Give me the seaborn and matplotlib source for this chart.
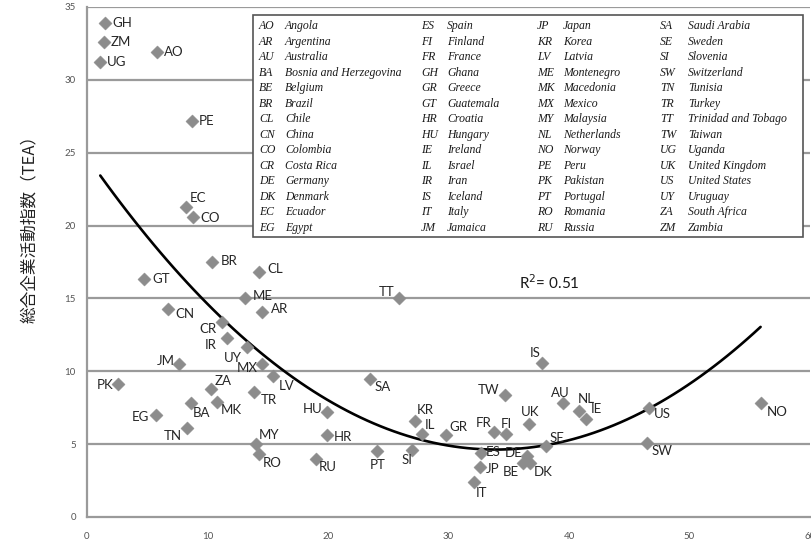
import numpy as np
import pandas as pd
import matplotlib
matplotlib.use("Agg")
import matplotlib.pyplot as plt
import seaborn as sns
from matplotlib.patches import Rectangle

# country code, x value, TEA
codes = ["GH", "ZM", "UG", "AO", "PE", "EC", "CO", "BR", "GT", "CL", "ME", "AR",
         "CN", "CR", "IR", "UY", "JM", "MX", "LV", "PK", "ZA", "TR", "BA", "MK",
         "HU", "EG", "TN", "HR", "MY", "RO", "RU", "SA", "KR", "IL", "PT", "SI",
         "GR", "FR", "FI", "ES", "DE", "JP", "BE", "DK", "IT", "TW", "IS", "UK",
         "AU", "NL", "IE", "SE", "US", "SW", "NO", "TT"]
xvals = [1.5, 1.4, 1.1, 5.8, 8.7, 8.2, 8.8, 10.4, 4.7, 14.3, 13.1, 14.5,
         6.7, 11.2, 11.6, 13.3, 7.6, 14.5, 15.4, 2.6, 10.3, 13.9, 8.6, 10.8,
         19.9, 5.7, 8.3, 19.9, 14.0, 14.3, 19.0, 23.5, 27.2, 27.8, 24.1, 27.0,
         29.8, 33.8, 34.8, 32.7, 36.5, 32.6, 36.2, 36.8, 32.1, 34.7, 37.8, 36.7,
         39.5, 40.8, 41.4, 38.1, 46.6, 46.5, 55.9, 25.9]
tea = [33.9, 32.6, 31.2, 31.9, 27.2, 21.3, 20.6, 17.5, 16.3, 16.8, 15.0, 14.1,
       14.3, 13.4, 12.3, 11.7, 10.5, 10.5, 9.7, 9.1, 8.8, 8.6, 7.8, 7.9,
       7.2, 7.0, 6.1, 5.6, 5.0, 4.3, 4.0, 9.5, 6.6, 5.7, 4.5, 4.6,
       5.6, 5.8, 5.7, 4.4, 4.2, 3.4, 3.7, 3.7, 2.4, 8.4, 10.6, 6.4,
       7.8, 7.3, 6.7, 4.9, 7.5, 5.1, 7.8, 15.0]

legend_codes = ["AO", "AR", "AU", "BA", "BE", "BR", "CL", "CN", "CO", "CR", "DE", "DK", "EC", "EG",
                "ES", "FI", "FR", "GH", "GR", "GT", "HR", "HU", "IE", "IL", "IR", "IS", "IT", "JM",
                "JP", "KR", "LV", "ME", "MK", "MX", "MY", "NL", "NO", "PE", "PK", "PT", "RO", "RU",
                "SA", "SE", "SI", "SW", "TN", "TR", "TT", "TW", "UG", "UK", "US", "UY", "ZA", "ZM"]
legend_names = ["Angola", "Argentina", "Australia", "Bosnia and Herzegovina", "Belgium", "Brazil",
                "Chile", "China", "Colombia", "Costa Rica", "Germany", "Denmark", "Ecuador", "Egypt",
                "Spain", "Finland", "France", "Ghana", "Greece", "Guatemala", "Croatia", "Hungary",
                "Ireland", "Israel", "Iran", "Iceland", "Italy", "Jamaica",
                "Japan", "Korea", "Latvia", "Montenegro", "Macedonia", "Mexico", "Malaysia",
                "Netherlands", "Norway", "Peru", "Pakistan", "Portugal", "Romania", "Russia",
                "Saudi Arabia", "Sweden", "Slovenia", "Switzerland", "Tunisia", "Turkey",
                "Trinidad and Tobago", "Taiwan", "Uganda", "United Kingdom", "United States",
                "Uruguay", "South Africa", "Zambia"]

ylabel = "総合企業活動指数（TEA）"
r2_text = "R$^2$= 0.51"

# label placement (pixels right, pixels down, alignment)
offsets = {
    "EC": (4, -9, "left"), "CO": (7, 1, "left"), "BR": (8, -1, "left"), "GT": (9, 0, "left"),
    "CL": (8, -3, "left"), "ME": (8, -2, "left"), "AR": (9, -3, "left"), "CN": (8, 5, "left"),
    "CR": (-5, 7, "right"), "IR": (-10, 7, "right"), "UY": (-5, 11, "right"),
    "JM": (-4, -3, "right"), "MX": (-4, 4, "right"), "LV": (6, 10, "left"),
    "PK": (-5, 1, "right"), "ZA": (4, -8, "left"), "TR": (6, 8, "left"), "BA": (2, 10, "left"),
    "MK": (4, 8, "left"), "HU": (-4, -3, "right"), "EG": (-7, 2, "right"),
    "TN": (-5, 8, "right"), "HR": (7, 2, "left"), "MY": (3, -9, "left"), "RO": (3, 9, "left"),
    "RU": (3, 8, "left"), "SA": (4, 8, "left"), "KR": (2, -11, "left"), "IL": (3, -9, "left"),
    "PT": (0, 14, "center"), "SI": (0, 10, "right"), "GR": (3, -8, "left"),
    "FR": (-3, -9, "right"), "FI": (0, -10, "center"), "ES": (5, -1, "left"),
    "DE": (-4, -3, "right"), "JP": (6, 2, "left"), "BE": (-4, 9, "right"), "DK": (3, 9, "left"),
    "IT": (2, 11, "left"), "TW": (-6, -5, "right"), "IS": (-2, -10, "right"),
    "UK": (1, -12, "center"), "AU": (-3, -10, "center"), "NL": (-1, -12, "left"),
    "IE": (5, -10, "left"), "SE": (3, -8, "left"), "US": (5, 6, "left"), "SW": (4, 8, "left"),
    "NO": (6, 9, "left"), "TT": (-5, -6, "right"),
}

df = pd.DataFrame({"code": codes, "x": xvals, "tea": tea})

sns.set_style("white")
plt.rcParams["font.family"] = ["Lato", "DejaVu Sans"]

fig = plt.figure(figsize=(8.11, 5.5), dpi=100)
ax = fig.add_axes([87 / 811, 1 - 517 / 550, 723 / 811, 510 / 550])

grid_col = "#9a9a9a"
for yv in range(5, 40, 5):
    ax.axhline(yv, color=grid_col, lw=1.6, zorder=0)

sns.scatterplot(data=df, x="x", y="tea", marker="D", s=45, color="#8c8c8c",
                edgecolor="#8c8c8c", linewidth=0.3, ax=ax, zorder=3)
sns.regplot(data=df, x="x", y="tea", order=2, scatter=False, ci=None, truncate=True,
            line_kws={"color": "black", "lw": 1.9}, ax=ax)

for c, xv, yv in zip(codes, xvals, tea):
    dx, dy, ha = offsets.get(c, (7, 0, "left"))
    ax.annotate(c, (xv, yv), xytext=(dx, -dy), textcoords="offset pixels",
                ha=ha, va="center", fontsize=9.5, color="#262626", zorder=4)

ax.text((519 - 87) / 12.05, (517 - 283) / 14.57, r2_text, fontsize=11, color="#1a1a1a",
        va="center", ha="left")

# country legend box
ax.add_patch(Rectangle((166 / 723, 280 / 510), 550 / 723, 222 / 510, transform=ax.transAxes,
                       facecolor="white", edgecolor="#555555", lw=1.2, zorder=5))
code_px = [259, 421, 537, 660]
name_px = [285, 447, 563, 688]
for i, (c, n) in enumerate(zip(legend_codes, legend_names)):
    col, row = divmod(i, 14)
    yy = (517 - 26 - row * 15.54) / 510
    ax.text((code_px[col] - 87) / 723, yy, c, transform=ax.transAxes, fontsize=8.5,
            family="Liberation Serif", style="italic", va="center", ha="left",
            color="#1a1a1a", zorder=6)
    ax.text((name_px[col] - 87) / 723, yy, n, transform=ax.transAxes, fontsize=8.5,
            family="Liberation Serif", style="italic", va="center", ha="left",
            color="#1a1a1a", zorder=6)

ax.set_xlim(0, 60)
ax.set_ylim(0, 35)
ax.set_xticks(range(0, 70, 10))
ax.set_yticks(range(0, 40, 5))
ax.set_xlabel("")
ax.set_ylabel("")
for s in ["top", "right"]:
    ax.spines[s].set_visible(False)
for s in ["left", "bottom"]:
    ax.spines[s].set_color(grid_col)
    ax.spines[s].set_linewidth(1.6)
ax.tick_params(axis="x", direction="out", length=5, width=1.2, color=grid_col,
               labelsize=7, labelcolor="#555555", pad=6)
ax.tick_params(axis="y", length=0, labelsize=7, labelcolor="#555555", pad=8)

fig.text(30 / 811, 1 - 225 / 550, ylabel, rotation=90, ha="center", va="center",
         fontsize=12, color="#222222", family=["Noto Sans CJK JP", "DejaVu Sans"])

fig.savefig("out.png", dpi=100)
